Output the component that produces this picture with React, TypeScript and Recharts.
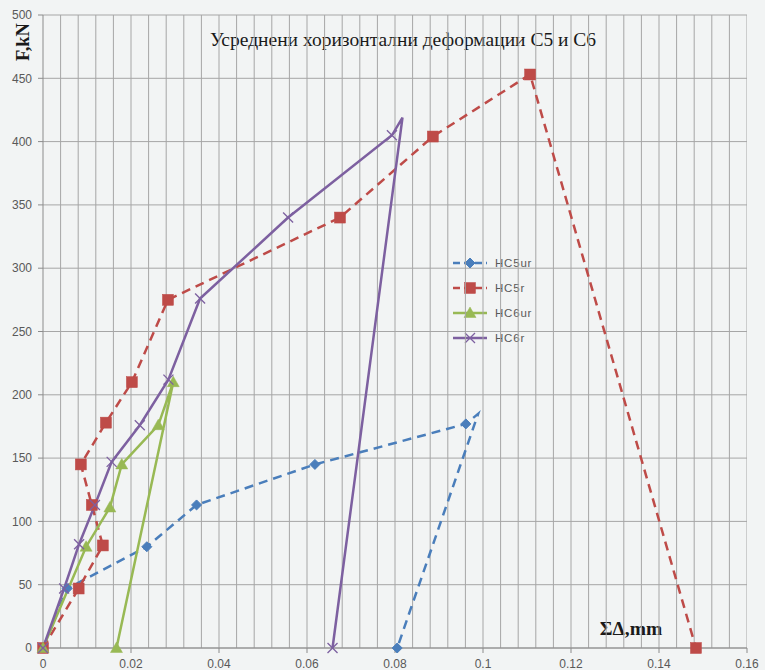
import React from 'react';
import {
  LineChart, Line, XAxis, YAxis, CartesianGrid, ReferenceLine, Customized,
} from 'recharts';

// ---- data ----
const xMajorTicks = [0, 0.02, 0.04, 0.06, 0.08, 0.1, 0.12, 0.14, 0.16];
const xMinorTicks = [0.004, 0.008, 0.012, 0.016, 0.024, 0.028, 0.032, 0.036, 0.044, 0.048, 0.052, 0.056, 0.064, 0.068, 0.072, 0.076, 0.084, 0.088, 0.092, 0.096, 0.104, 0.108, 0.112, 0.116, 0.124, 0.128, 0.132, 0.136, 0.144, 0.148, 0.152, 0.156];
const yTicks = [0, 50, 100, 150, 200, 250, 300, 350, 400, 450, 500];

const hc5urX = [0, 0.0055, 0.0236, 0.0349, 0.0618, 0.0961, 0.0989, 0.0805];
const hc5urY = [0, 47, 80, 113, 145, 177, 185, 0];
const hc5urMark = [1, 1, 1, 1, 1, 1, 0, 1];

const hc5rX = [0, 0.0081, 0.0136, 0.0111, 0.0086, 0.0143, 0.0202, 0.0284, 0.0675, 0.0886, 0.1107, 0.1484];
const hc5rY = [0, 47, 81, 113, 145, 178, 210, 275, 340, 404, 453, 0];
const hc5rMark = [1, 1, 1, 1, 1, 1, 1, 1, 1, 1, 1, 1];

const hc6urX = [0, 0.0098, 0.0152, 0.0179, 0.0262, 0.0296, 0.0167];
const hc6urY = [0, 80, 111, 145, 176, 210, 0];
const hc6urMark = [1, 1, 1, 1, 1, 1, 1];

const hc6rX = [0, 0.0048, 0.0082, 0.0118, 0.0156, 0.022, 0.0285, 0.0357, 0.0557, 0.0793, 0.0817, 0.0658];
const hc6rY = [0, 47, 82, 113, 147, 176, 212, 276, 340, 405, 419, 0];
const hc6rMark = [1, 1, 1, 1, 1, 1, 1, 1, 1, 1, 0, 1];

const seriesNames = ['HC5ur', 'HC5r', 'HC6ur', 'HC6r'];
// ---------------

const COLORS = ['#4a7ebb', '#be4b48', '#98b954', '#7d60a0'];
const SHAPES = ['diamond', 'square', 'triangle', 'x'];
const DASH = ['9 6', '9 6', undefined, undefined];

const build = (xs: number[], ys: number[], mk: number[]) =>
  xs.map((x, i) => ({ x, y: ys[i], m: mk[i] }));

const series = [
  build(hc5urX, hc5urY, hc5urMark),
  build(hc5rX, hc5rY, hc5rMark),
  build(hc6urX, hc6urY, hc6urMark),
  build(hc6rX, hc6rY, hc6rMark),
];

function Marker({ shape, cx, cy, color }: { shape: string; cx: number; cy: number; color: string }) {
  if (shape === 'diamond') {
    const s = 5;
    return <polygon points={`${cx},${cy - s} ${cx + s},${cy} ${cx},${cy + s} ${cx - s},${cy}`} fill={color} stroke={color} strokeWidth={1} />;
  }
  if (shape === 'square') {
    const s = 5.5;
    return <rect x={cx - s} y={cy - s} width={2 * s} height={2 * s} fill={color} stroke={color} strokeWidth={0.5} />;
  }
  if (shape === 'triangle') {
    const s = 6;
    return <polygon points={`${cx},${cy - s} ${cx + s},${cy + s * 0.75} ${cx - s},${cy + s * 0.75}`} fill={color} stroke={color} strokeWidth={0.5} />;
  }
  const s = 5;
  return (
    <g stroke={color} strokeWidth={1.3}>
      <line x1={cx - s} y1={cy - s} x2={cx + s} y2={cy + s} />
      <line x1={cx - s} y1={cy + s} x2={cx + s} y2={cy - s} />
    </g>
  );
}

const makeDot = (k: number) => (p: any) => {
  const key = `d${k}-${p.index}`;
  if (!p.payload || !p.payload.m || p.cx == null) return <g key={key} />;
  return (
    <g key={key}>
      <Marker shape={SHAPES[k]} cx={p.cx} cy={p.cy} color={COLORS[k]} />
    </g>
  );
};

const Labels = () => (
  <g>
    <text x={403} y={46} textAnchor="middle" fontFamily="'Liberation Serif', 'Times New Roman', serif" fontSize={19.5} fill="#1a1a1a">
      Усреднени хоризонтални деформации С5 и С6
    </text>
    <text transform="translate(29,42) rotate(-90)" textAnchor="middle" fontFamily="'Liberation Serif', 'Times New Roman', serif" fontSize={18.5} fontWeight="bold" fill="#1a1a1a">
      F,kN
    </text>
    <text x={631} y={635} textAnchor="middle" fontFamily="'Liberation Serif', 'Times New Roman', serif" fontSize={19.5} fontWeight="bold" fill="#1a1a1a">
      ΣΔ,mm
    </text>
    <g transform="translate(450,253)">
      {seriesNames.map((n, i) => {
        const y = 10 + i * 25;
        return (
          <g key={n}>
            <line x1={3} y1={y} x2={37} y2={y} stroke={COLORS[i]} strokeWidth={2.5} strokeDasharray={DASH[i] ? '7 4' : undefined} />
            <Marker shape={SHAPES[i]} cx={20} cy={y} color={COLORS[i]} />
            <text x={45} y={y + 4} fontSize={11.5} letterSpacing={0.8} fill="#595959" fontFamily="'Liberation Sans', Arial, sans-serif">{n}</text>
          </g>
        );
      })}
    </g>
  </g>
);

const fmt = (v: number) => String(+v.toFixed(2));

export default function App() {
  return (
    <div style={{ position: 'absolute', left: 0, top: 0, width: 765, height: 670, background: '#f2f4f4' }}>
      <LineChart width={765} height={670} margin={{ top: 15, right: 18, bottom: 0, left: 8 }}>
        <CartesianGrid vertical={false} stroke="#a6a6a6" strokeWidth={1} />
        {xMinorTicks.concat(xMajorTicks.slice(1)).map((v) => (
          <ReferenceLine key={`v${v}`} x={v} stroke="#a6a6a6" strokeWidth={1} ifOverflow="hidden" />
        ))}
        <XAxis
          type="number"
          dataKey="x"
          domain={[0, 0.16]}
          ticks={xMajorTicks}
          tickFormatter={fmt}
          allowDuplicatedCategory={false}
          stroke="#8c8c8c"
          tickSize={5}
          tickMargin={6}
          height={22}
          tick={{ fill: '#595959', fontSize: 12, fontFamily: "'Liberation Sans', Arial, sans-serif" }}
        />
        <YAxis
          type="number"
          dataKey="y"
          domain={[0, 500]}
          ticks={yTicks}
          stroke="#8c8c8c"
          tickSize={5}
          tickMargin={6}
          width={35}
          tick={{ fill: '#595959', fontSize: 12, fontFamily: "'Liberation Sans', Arial, sans-serif" }}
        />
        {series.map((d, k) => (
          <Line
            key={seriesNames[k]}
            name={seriesNames[k]}
            data={d}
            dataKey="y"
            type="linear"
            stroke={COLORS[k]}
            strokeWidth={2.5}
            strokeDasharray={DASH[k]}
            dot={makeDot(k)}
            activeDot={false}
            isAnimationActive={false}
          />
        ))}
        <Customized component={Labels} />
      </LineChart>
    </div>
  );
}
